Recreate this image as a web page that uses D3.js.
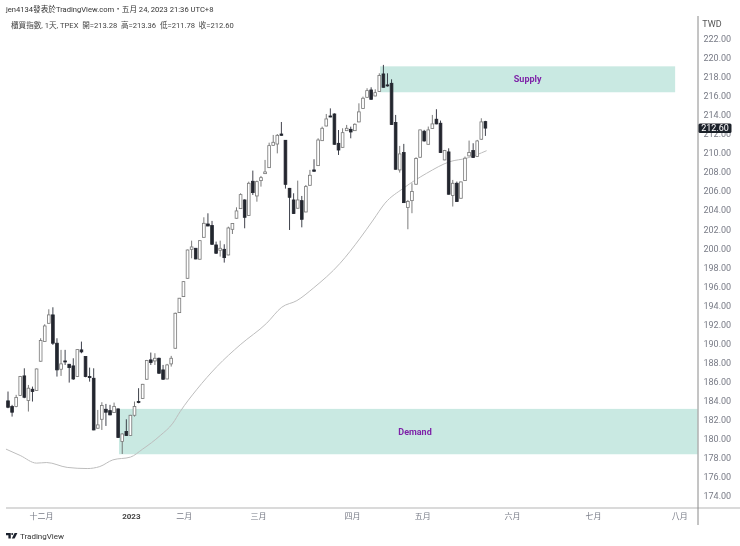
<!DOCTYPE html>
<html><head><meta charset="utf-8">
<script src="https://cdn.jsdelivr.net/npm/d3@7/dist/d3.min.js"></script>
<style>html,body{margin:0;padding:0;background:#fff}svg{display:block}
text{font-family:Roboto,"Noto Sans CJK TC",sans-serif}</style></head><body>
<script>
const highs=[184.96,183.56,184.61,186.60,187.40,185.65,185.48,187.37,190.55,192.02,193.59,193.80,190.55,189.33,189.33,187.86,188.45,189.40,190.20,188.66,187.47,187.40,183.03,183.84,183.66,183.56,183.80,183.17,180.58,182.05,182.51,183.91,185.31,185.76,188.28,189.05,188.98,188.52,187.75,187.86,188.70,193.24,194.78,
196.53,199.85,200.79,200.02,200.83,203.24,203.66,202.86,200.69,200.79,200.41,202.26,202.61,204.29,205.76,205.13,206.98,208.14,207.09,207.58,209.26,211.07,211.88,211.98,213.24,211.35,206.32,205.76,207.09,205.48,206.63,208.21,209.33,211.53,212.75,214.08,214.67,214.15,212.40,212.58,212.93,212.75,213.10,
215.20,215.90,216.78,216.88,216.67,218.35,219.23,218.35,217.72,213.98,210.73,210.94,205.06,206.81,209.54,212.44,212.41,212.76,213.98,214.58,213.39,210.31,210.48,207.16,206.99,206.99,209.61,211.29,211.01,211.36,213.63,213.36];
const lows=[183.21,182.33,183.31,184.50,184.26,182.86,183.91,185.03,188.10,190.17,192.09,189.85,186.53,186.60,187.75,185.90,186.18,186.49,188.98,186.46,186.00,180.90,181.07,180.93,181.35,182.47,182.71,180.09,178.41,180.30,180.30,182.33,183.73,184.18,186.21,187.75,187.75,186.81,186.18,186.25,187.58,189.47,193.20,
194.88,196.80,198.94,198.84,198.80,201.11,202.30,200.34,199.40,199.12,198.49,199.25,201.49,203.10,204.11,202.09,203.38,205.58,204.88,206.46,207.79,208.42,210.76,209.95,211.81,206.25,201.91,203.59,204.15,202.19,203.77,206.56,208.03,208.63,211.25,212.79,213.73,210.86,209.78,210.55,212.30,211.53,212.30,
213.21,214.61,215.80,215.59,215.94,216.40,216.85,216.95,212.93,208.25,207.93,204.75,201.99,203.67,206.68,209.50,211.18,210.87,212.51,213.00,209.99,209.23,205.62,204.37,204.85,205.21,207.06,209.65,209.48,209.58,211.39,211.78];
const opens=[183.98,183.38,183.38,184.54,186.60,184.01,185.20,185.06,188.14,190.20,192.12,193.00,190.03,187.30,188.17,187.82,187.65,186.53,189.33,188.63,186.53,186.35,181.11,182.05,183.10,182.96,182.75,183.14,179.71,180.76,180.34,182.47,183.91,184.22,186.25,188.28,188.17,188.45,187.23,186.28,187.86,189.50,193.24,
194.92,196.84,199.88,199.99,198.84,201.14,202.54,202.37,200.34,199.78,199.88,199.29,201.98,203.14,204.15,205.06,203.42,207.02,205.48,207.09,207.82,208.45,210.79,210.93,211.98,211.32,206.28,205.06,204.19,204.99,203.80,206.60,208.21,208.66,211.28,212.82,213.87,214.08,211.00,210.58,212.33,212.47,212.33,
213.25,214.65,215.83,216.60,215.97,216.43,218.28,217.13,217.30,213.18,208.21,210.03,204.26,204.99,206.71,209.54,212.27,210.90,212.55,213.53,213.11,209.26,210.10,205.52,206.81,205.24,207.09,209.68,210.24,209.61,211.43,213.28];
const closes=[183.31,182.79,184.33,186.53,184.36,185.31,184.96,187.33,190.31,191.84,193.00,190.03,187.23,187.86,188.07,187.47,186.28,189.36,189.12,186.53,186.42,180.93,181.46,183.49,182.79,182.51,183.38,180.13,180.51,180.34,182.47,183.38,183.80,185.72,188.21,188.00,188.45,186.88,186.25,187.75,188.45,193.17,194.75,
196.49,199.81,200.13,198.87,200.79,202.61,202.33,200.41,199.47,199.99,199.01,202.12,202.58,203.91,205.62,203.24,206.81,205.83,206.98,207.40,208.00,210.76,211.11,211.84,211.84,206.70,205.34,203.63,205.06,203.03,206.46,207.65,208.07,211.35,212.58,213.56,213.80,210.90,210.30,212.12,212.58,212.19,213.00,
214.30,215.73,216.53,215.62,216.32,218.11,216.88,217.06,212.97,208.28,209.89,204.78,204.89,205.94,209.40,212.41,211.25,212.41,213.04,213.04,210.03,210.24,205.66,206.81,204.89,206.95,209.44,210.03,209.51,211.25,213.25,212.60];
const maIndex=[-0.5,3,7,9.5,14.5,19.4,22.5,25.7,30,33,37.3,40.4,42.2,46.2,51.2,56.9,63.4,67.1,70.8,74.8,81.4,86.3,89.5,92.4,96.9,102.6,108.3,112.4,117.3];
const maValues=[178.92,178.25,177.45,177.51,177.0,176.88,177.09,177.79,178.08,178.92,180.34,181.64,182.86,185.14,187.58,189.86,192.13,193.81,194.50,195.80,198.42,201.05,202.96,204.72,206.29,207.86,209.08,209.44,210.23];
const priceTicks=[222,220,218,216,214,212,210,208,206,204,202,200,198,196,194,192,190,188,186,184,182,180,178,176,174];
const timeTickIndex=[8.1,30.1,43.1,61.3,84.3,101.5,123.5,143.4,164.5];
const timeTickLabels=["十二月","2023","二月","三月","四月","五月","六月","七月","八月"];
const zoneNames=["Supply","Demand"];
const zoneTop=[219.08,183.14];
const zoneBottom=[216.36,178.38];
const zoneStart=[91.2,27.2];
const zoneEnd=[163.5,172.3];
const headerLine="jen4134發表於TradingView.com・五月 24, 2023 21:36 UTC+8";
const quoteLine="櫃買指數, 1天, TPEX  開=213.28  高=213.36  低=211.78  收=212.60";
const lastPrice=212.60;

const W=740,H=546;
const svg=d3.select("body").append("svg").attr("width",W).attr("height",H).attr("viewBox",[0,0,W,H]);
const defs=svg.append("defs");
defs.append("clipPath").attr("id","pane").append("rect").attr("x",0).attr("y",16).attr("width",697.5).attr("height",492);
defs.append("filter").attr("id","soft").attr("x","-5%").attr("y","-5%").attr("width","110%").attr("height","110%")
  .append("feGaussianBlur").attr("stdDeviation",0.3);
const root=svg.append("g").attr("filter","url(#soft)");
const x=d3.scaleLinear().domain([0,117]).range([8,485.4]);
const y=d3.scaleLinear().domain([174,222]).range([496,38.5]);

// zones
const zones=zoneNames.map((n,i)=>({n,t:zoneTop[i],b:zoneBottom[i],s:zoneStart[i],e:zoneEnd[i]}));
const zg=root.append("g");
zg.append("g").attr("clip-path","url(#pane)").selectAll("rect").data(zones).join("rect")
 .attr("x",d=>x(d.s)).attr("width",d=>x(d.e)-x(d.s))
 .attr("y",d=>y(d.t)).attr("height",d=>y(d.b)-y(d.t)).attr("fill","#c9e9e2");
zg.selectAll("text").data(zones).join("text")
 .attr("x",d=>(x(d.s)+x(d.e))/2).attr("y",d=>(y(d.t)+y(d.b))/2+3)
 .attr("text-anchor","middle").attr("fill","#7e22a8").attr("font-size",9).attr("font-weight",700).text(d=>d.n);

// moving average
const line=d3.line().x((d,i)=>x(maIndex[i])).y(d=>y(d)).curve(d3.curveMonotoneX);
root.append("path").datum(maValues).attr("d",line).attr("fill","none").attr("stroke","#bdbdbd").attr("stroke-width",1);

// candles
const candles=opens.map((o,i)=>({i,o,c:closes[i],h:highs[i],l:lows[i]}));
const cg=root.append("g").selectAll("g").data(candles).join("g");
cg.append("line").attr("x1",d=>x(d.i)).attr("x2",d=>x(d.i)).attr("y1",d=>y(d.h)).attr("y2",d=>y(d.l))
 .attr("stroke",d=>d.c<d.o?"#2a2e39":"#6c6c6c").attr("stroke-width",0.9);
cg.append("rect").attr("x",d=>x(d.i)-1.35).attr("width",2.7)
 .attr("y",d=>y(Math.max(d.o,d.c))).attr("height",d=>Math.max(1,y(Math.min(d.o,d.c))-y(Math.max(d.o,d.c))))
 .attr("fill",d=>d.c<d.o?"#23262f":"#fff").attr("stroke",d=>d.c<d.o?"#23262f":"#777").attr("stroke-width",0.8);

// frame
root.append("line").attr("x1",6).attr("x2",740).attr("y1",508).attr("y2",508).attr("stroke","#b5b5b5").attr("stroke-width",1.2);
root.append("line").attr("x1",698).attr("x2",698).attr("y1",16).attr("y2",525).attr("stroke","#8a8a8a").attr("stroke-width",1);

// y axis
const ya=root.append("g").attr("transform","translate(698,0)")
 .call(d3.axisRight(y).tickValues(priceTicks).tickFormat(d3.format(".2f")).tickSize(0).tickPadding(5.5));
ya.select(".domain").remove();
ya.selectAll("text").attr("font-size",9).attr("fill","#787b86").style("font-family",'Roboto,sans-serif');
root.append("text").attr("x",712).attr("y",27).attr("text-anchor","middle").attr("font-size",9).attr("fill","#555").text("TWD");

// last price
root.append("rect").attr("x",698.5).attr("width",33).attr("y",y(lastPrice)-4.7).attr("height",9.6).attr("rx",1.5).attr("fill","#1f222c");
root.append("text").attr("x",715).attr("y",y(lastPrice)+3.3).attr("text-anchor","middle").attr("font-size",9).attr("fill","#fff").text(d3.format(".2f")(lastPrice));

// x axis
const xa=root.append("g").attr("transform","translate(0,508)")
 .call(d3.axisBottom(x).tickValues(timeTickIndex).tickFormat((d,i)=>timeTickLabels[i]).tickSize(0).tickPadding(5));
xa.select(".domain").remove();
xa.selectAll("text").attr("font-size",8).style("font-family",'Roboto,"Noto Sans CJK TC",sans-serif')
 .attr("font-weight",(d,i)=>timeTickLabels[i]==="2023"?700:400)
 .attr("fill",(d,i)=>timeTickLabels[i]==="2023"?"#444":"#787b86");

// header
root.append("text").attr("x",6).attr("y",12).attr("font-size",7.6).attr("fill","#333").text(headerLine);
root.append("text").attr("x",11).attr("y",28).attr("font-size",7.6).attr("fill","#444").style("white-space","pre").text(quoteLine);

// logo
const logo=root.append("g").attr("transform","translate(6,533)").attr("fill","#1e222d");
logo.append("path").attr("d","M0 0H4.8V5.5H2.4V2.2H0Z");
logo.append("circle").attr("cx",6.2).attr("cy",1).attr("r",1);
logo.append("path").attr("d","M8.6 0H11.4L8.6 5.5H5.8Z");
root.append("text").attr("x",20).attr("y",539).attr("font-size",8).attr("fill","#333").text("TradingView");
</script></body></html>
